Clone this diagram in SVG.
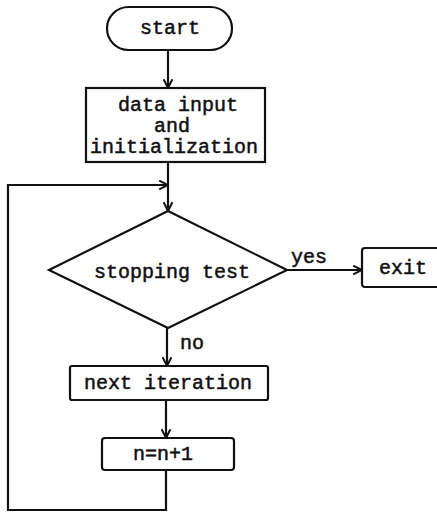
<svg xmlns="http://www.w3.org/2000/svg" width="437" height="513" viewBox="0 0 437 513">
  <defs>
    <style>
      .shape { fill: #fff; stroke: #111; stroke-width: 2.2; }
      .wire { fill: none; stroke: #111; stroke-width: 2.2; }
      .lbl { font-family: "Liberation Mono", "Courier New", monospace; font-size: 20px; fill: #111; stroke: #111; stroke-width: 0.5; text-anchor: middle; }
      .tag { font-family: "Liberation Mono", "Courier New", monospace; font-size: 20px; fill: #111; stroke: #111; stroke-width: 0.5; }
    </style>
    <marker id="arrow" viewBox="0 0 10 10" refX="9" refY="5" markerWidth="11" markerHeight="11" markerUnits="userSpaceOnUse" orient="auto">
      <path d="M1,1 L9,5 L1,9" fill="none" stroke="#111" stroke-width="1.8"/>
    </marker>
  </defs>
  <rect width="437" height="513" fill="#fff"/>

  <g id="connectors">
    <line class="wire" x1="168" y1="50" x2="168" y2="88" marker-end="url(#arrow)"/>
    <line class="wire" x1="168" y1="162" x2="168" y2="211" marker-end="url(#arrow)"/>
    <polyline class="wire" points="166,470 166,510 8,510 8,185 168,185" marker-end="url(#arrow)"/>
    <line class="wire" x1="287" y1="270" x2="362" y2="270" marker-end="url(#arrow)"/>
    <text class="tag" x="291" y="263">yes</text>
    <line class="wire" x1="167" y1="328" x2="167" y2="366" marker-end="url(#arrow)"/>
    <text class="tag" x="180" y="349">no</text>
    <line class="wire" x1="166" y1="400" x2="166" y2="438" marker-end="url(#arrow)"/>
  </g>

  <g id="start">
    <rect class="shape" x="107" y="7" width="125" height="43" rx="21.5"/>
    <text class="lbl" x="170" y="34">start</text>
  </g>

  <g id="init">
    <rect class="shape" x="86" y="88" width="179" height="74"/>
    <text class="lbl" x="178" y="111">data input</text>
    <text class="lbl" x="172" y="132">and</text>
    <text class="lbl" x="174" y="153">initialization</text>
  </g>

  <g id="test">
    <polygon class="shape" points="168,211 287,270 168,328 49,270"/>
    <text class="lbl" x="172" y="278">stopping test</text>
  </g>

  <g id="exit">
    <rect class="shape" x="362" y="248" width="80" height="39" rx="3"/>
    <text class="lbl" x="403" y="274">exit</text>
  </g>

  <g id="next">
    <rect class="shape" x="70" y="366" width="198" height="34" rx="2"/>
    <text class="lbl" x="168" y="389">next iteration</text>
  </g>

  <g id="increment">
    <rect class="shape" x="102" y="438" width="132" height="32" rx="3"/>
    <text class="lbl" x="163" y="460">n=n+1</text>
  </g>
</svg>
